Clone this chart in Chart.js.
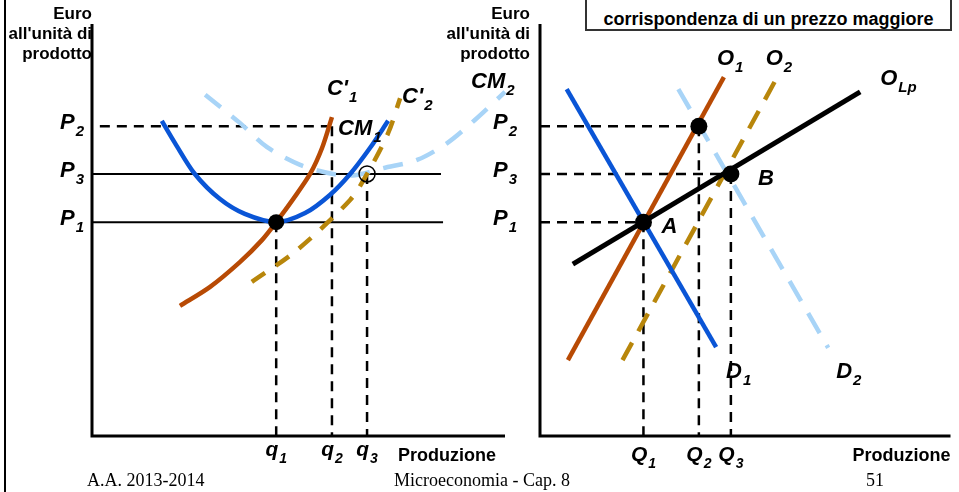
<!DOCTYPE html>
<html><head><meta charset="utf-8">
<script src="https://cdn.jsdelivr.net/npm/chart.js@4"></script>
<style>
html,body{margin:0;padding:0;background:#fff;}
#wrap{position:relative;width:959px;height:492px;overflow:hidden;background:#fff;}
canvas{position:absolute;left:0;top:0;}
.ft{position:absolute;font-family:"Liberation Serif","Times New Roman",serif;font-size:18px;line-height:18px;color:#000;white-space:nowrap;}
#border{position:absolute;left:4px;top:0;width:2px;height:492px;background:#000;}
#titlebox{position:absolute;left:585px;top:-4px;width:367px;height:35px;box-sizing:border-box;border:2px solid #333;background:#fff;}
#titletext{position:absolute;left:585px;top:10px;width:367px;text-align:center;font-family:"Liberation Sans",Arial,sans-serif;font-weight:bold;font-size:18px;line-height:18px;color:#000;white-space:nowrap;}
</style></head>
<body>
<div id="wrap">
  <div id="border"></div>
  <div id="titlebox"></div>
  <div id="titletext">corrispondenza di un prezzo maggiore</div>
  <canvas id="left" width="959" height="492"></canvas>
  <canvas id="right" width="959" height="492"></canvas>
  <div class="ft" style="left:87px;top:471px;">A.A. 2013-2014</div>
  <div class="ft" style="left:394px;top:471px;">Microeconomia - Cap. 8</div>
  <div class="ft" style="left:866px;top:471px;">51</div>
</div>
<script>
// ---------- DATA ----------
const axisTitleLines = ["Euro", "all'unità di", "prodotto"];
const xAxisTitle = "Produzione";
const priceTickLabels = ["P_1", "P_3", "P_2"];
const priceValues = [51.9, 63.6, 75.2];
const leftQtyLabels = ["q_1", "q_2", "q_3"];
const leftQtyValues = [44.6, 58.1, 66.6];
const rightQtyLabels = ["Q_1", "Q_2", "Q_3"];
const rightQtyValues = [25.2, 38.7, 46.5];

// left panel curves (single firm)
const cm1X = [16.9, 20.1, 24.9, 31.0, 37.0, 44.6, 51.6, 57.6, 62.5, 67.3, 71.7];
const cm1Y = [76.5, 71.1, 63.6, 57.5, 53.9, 51.9, 54.1, 58.5, 63.6, 69.9, 76.5];
const mc1X = [21.3, 28.6, 35.8, 41.2, 44.6, 48.7, 52.8, 55.7, 58.1];
const mc1Y = [31.6, 36.2, 42.2, 47.6, 51.9, 57.5, 63.6, 69.9, 77.4];
const mc2X = [38.7, 49.6, 62.5, 66.6, 71.7, 74.6];
const mc2Y = [37.4, 45.1, 57.3, 63.6, 73.5, 82.0];
const cm2X = [27.4, 35.8, 42.4, 50.4, 58.4, 63.7, 70.5, 78.7, 86.0, 92.7, 100];
const cm2Y = [82.8, 76.0, 70.1, 65.8, 63.6, 63.3, 65.0, 67.0, 71.1, 76.7, 83.5];
const leftLineEnds = [84.5, 85.0]; // P3, P1 horizontal lines end

// right panel curves (industry)
const d1X = [6.5, 42.9],  d1Y = [84.2, 21.6];
const o1X = [6.8, 44.8],  o1Y = [18.4, 87.1];
const o2X = [20.1, 57.4], o2Y = [18.4, 86.4];
const d2X = [33.7, 70.2], d2Y = [84.2, 21.4];
const olpX = [8.0, 78.0], olpY = [41.7, 83.5];

// ---------- helpers ----------
const pts = (xs, ys) => xs.map((x, i) => ({x, y: ys[i]}));
const FONT = '"Liberation Sans", Arial, sans-serif';
const BLUE = '#0a55d6', ORANGE = '#b84a04', GOLD = '#b8860b', LBLUE = '#a8d4f7';

function subLabel(ctx, text, x, y, align, size = 22, subSize = 15) {
  const [main, sub] = text.split('_');
  const fm = `italic bold ${size}px ${FONT}`, fs = `italic bold ${subSize}px ${FONT}`;
  ctx.font = fm; const wm = ctx.measureText(main).width;
  ctx.font = fs; const ws = sub ? ctx.measureText(sub).width + 1 : 0;
  const tot = wm + ws;
  const x0 = align === 'center' ? x - tot / 2 : align === 'right' ? x - tot : x;
  ctx.textAlign = 'left'; ctx.textBaseline = 'alphabetic'; ctx.fillStyle = '#000';
  ctx.font = fm; ctx.fillText(main, x0, y);
  if (sub) { ctx.font = fs; ctx.fillText(sub, x0 + wm + 1, y + 7); }
}

function line(data, color, width, dash, extra) {
  return Object.assign({data, borderColor: color, backgroundColor: color, borderWidth: width,
    borderDash: dash || [], pointRadius: 0, fill: false, clip: false, tension: 0,
    borderCapStyle: 'butt'}, extra || {});
}
function dots(data, fillColor, r, bw) {
  return {data, showLine: false, pointRadius: r, pointBackgroundColor: fillColor,
    pointBorderColor: '#000', pointBorderWidth: bw || 0, clip: false, borderColor: '#000',
    backgroundColor: fillColor};
}

function baseOptions(padding) {
  return {
    responsive: false, animation: false, devicePixelRatio: 1, events: [],
    layout: {padding},
    plugins: {legend: {display: false}, tooltip: {enabled: false}},
    scales: {
      x: {type: 'linear', min: 0, max: 100, display: false},
      y: {type: 'linear', min: 0, max: 100, display: false}
    }
  };
}

const axisLine = [{x: 0, y: 100}, {x: 0, y: 0}, {x: 100, y: 0}];
const guideDash = [10, 7];
const smooth = {tension: 0.3};

// ---------- LEFT CHART ----------
const [pP1, pP3, pP2] = priceValues;
const [q1, q2, q3] = leftQtyValues;

const leftDatasets = [
  dots([{x: q3, y: pP3}], 'rgba(0,0,0,0)', 8, 1.5),
  dots([{x: q1, y: pP1}], '#000', 8, 0),
  line(pts(cm1X, cm1Y), BLUE, 4.5, [], smooth),
  line(pts(mc1X, mc1Y), ORANGE, 4.5, [], smooth),
  line(pts(mc2X, mc2Y), GOLD, 4.5, [16, 13], smooth),
  line(pts(cm2X, cm2Y), LBLUE, 4.5, [20, 14], smooth),
  line([{x: 0, y: pP3}, {x: leftLineEnds[0], y: pP3}], '#000', 2),
  line([{x: 0, y: pP1}, {x: leftLineEnds[1], y: pP1}], '#000', 2),
  line([{x: 1.9, y: pP2}, {x: q2, y: pP2}], '#000', 2.5, guideDash),
  line([{x: q2, y: pP2}, {x: q2, y: 0}], '#000', 2.5, guideDash),
  line([{x: q1, y: pP1}, {x: q1, y: 0}], '#000', 2.5, guideDash),
  line([{x: q3, y: pP3}, {x: q3, y: 0}], '#000', 2.5, guideDash),
  line(axisLine, '#000', 3, [], {borderJoinStyle: 'miter'})
];

function axisTexts(chart, titleRightOffset, pOffset, qLabels, qValues, prodRight, qBase) {
  const {ctx, chartArea: ca, scales: {x, y}} = chart;
  ctx.save();
  ctx.fillStyle = '#000';
  ctx.font = `bold 17px ${FONT}`;
  ctx.textAlign = 'right'; ctx.textBaseline = 'alphabetic';
  axisTitleLines.forEach((t, i) => ctx.fillText(t, ca.left - titleRightOffset, ca.top - 5 + i * 20));
  priceTickLabels.forEach((t, i) => subLabel(ctx, t, ca.left - pOffset, y.getPixelForValue(priceValues[i]) + 3, 'left'));
  qLabels.forEach((t, i) => subLabel(ctx, t, x.getPixelForValue(qValues[i]), ca.bottom + qBase, 'center', 21, 14));
  ctx.font = `bold 18px ${FONT}`; ctx.textAlign = 'right';
  ctx.fillText(xAxisTitle, ca.right - prodRight, ca.bottom + 25);
  ctx.restore();
}

const leftLabels = {
  id: 'leftLabels',
  afterDraw(chart) {
    const {ctx, scales: {x, y}} = chart;
    axisTexts(chart, 0, 32, leftQtyLabels, leftQtyValues, 9, 20);
    const end = (xs, ys) => [x.getPixelForValue(xs[xs.length - 1]), y.getPixelForValue(ys[ys.length - 1])];
    ctx.save();
    let [ex, ey] = end(mc1X, mc1Y); subLabel(ctx, "C'_1", ex - 5, ey - 22, 'left');
    [ex, ey] = end(mc2X, mc2Y); subLabel(ctx, "C'_2", ex + 2, ey + 5, 'left');
    [ex, ey] = end(cm1X, cm1Y); subLabel(ctx, "CM_1", ex - 50, ey + 14, 'left');
    [ex, ey] = end(cm2X, cm2Y); subLabel(ctx, "CM_2", ex - 34, ey - 4, 'left');
    ctx.restore();
  }
};

new Chart(document.getElementById('left'), {
  type: 'line',
  data: {datasets: leftDatasets},
  options: baseOptions({left: 92, right: 454, top: 24, bottom: 56}),
  plugins: [leftLabels]
});

// ---------- RIGHT CHART ----------
const [Q1, Q2, Q3] = rightQtyValues;
const rightDatasets = [
  dots([{x: Q1, y: pP1}, {x: Q2, y: pP2}, {x: Q3, y: pP3}], '#000', 8.5, 0),
  line(pts(olpX, olpY), '#000', 5),
  line(pts(d1X, d1Y), BLUE, 4.5),
  line(pts(o1X, o1Y), ORANGE, 4.5),
  line(pts(o2X, o2Y), GOLD, 4.5, [20, 13]),
  line(pts(d2X, d2Y), LBLUE, 4.5, [23, 14]),
  line([{x: 0, y: pP2}, {x: Q2, y: pP2}], '#000', 2.5, guideDash),
  line([{x: 0, y: pP3}, {x: Q3, y: pP3}], '#000', 2.5, guideDash),
  line([{x: 0, y: pP1}, {x: Q1, y: pP1}], '#000', 2.5, guideDash),
  line([{x: Q1, y: pP1}, {x: Q1, y: 0}], '#000', 2.5, guideDash),
  line([{x: Q2, y: pP2}, {x: Q2, y: 0}], '#000', 2.5, guideDash),
  line([{x: Q3, y: pP3}, {x: Q3, y: 0}], '#000', 2.5, guideDash),
  line(axisLine, '#000', 3, [], {borderJoinStyle: 'miter'})
];

const rightLabels = {
  id: 'rightLabels',
  afterDraw(chart) {
    const {ctx, scales: {x, y}} = chart;
    axisTexts(chart, 10, 47, rightQtyLabels, rightQtyValues, 0, 25);
    const px = v => x.getPixelForValue(v), py = v => y.getPixelForValue(v);
    const last = a => a[a.length - 1];
    ctx.save();
    subLabel(ctx, 'O_1', px(last(o1X)) - 7, py(last(o1Y)) - 12, 'left');
    subLabel(ctx, 'O_2', px(last(o2X)) - 10, py(last(o2Y)) - 15, 'left');
    subLabel(ctx, 'O_Lp', px(last(olpX)) + 20, py(last(olpY)) - 7, 'left');
    subLabel(ctx, 'D_1', px(last(d1X)) + 10, py(last(d1Y)) + 31, 'left');
    subLabel(ctx, 'D_2', px(last(d2X)) + 8, py(last(d2Y)) + 30, 'left');
    subLabel(ctx, 'A', px(Q1) + 18, py(pP1) + 11, 'left');
    subLabel(ctx, 'B', px(Q3) + 27, py(pP3) + 11, 'left');
    ctx.restore();
  }
};

new Chart(document.getElementById('right'), {
  type: 'line',
  data: {datasets: rightDatasets},
  options: baseOptions({left: 540, right: 6, top: 24, bottom: 56}),
  plugins: [rightLabels]
});
</script>
</body></html>
